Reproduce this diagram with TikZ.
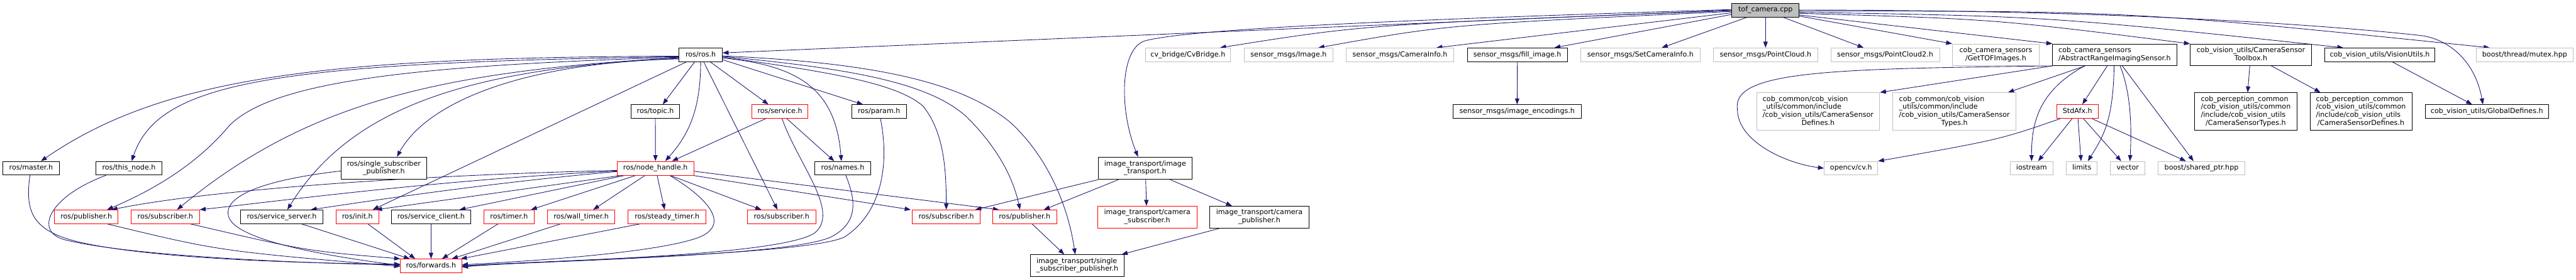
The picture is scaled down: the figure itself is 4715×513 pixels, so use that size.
\documentclass[tikz,border=0pt]{standalone}
\usepackage{fontspec}
\setmainfont{DejaVu Sans}
\usetikzlibrary{arrows.meta}
\definecolor{edgeblue}{HTML}{191970}
\definecolor{graybd}{HTML}{BFBFBF}
\pgfdeclarelayer{bg}
\pgfsetlayers{bg,main}
\newcommand\twol[2]{\begin{tabular}{@{}l@{}}#1\\\multicolumn{1}{@{}c@{}}{#2}\end{tabular}}
\newcommand\fourl[4]{\begin{tabular}{@{}l@{}}#1\\#2\\#3\\\multicolumn{1}{@{}c@{}}{#4}\end{tabular}}
\tikzset{
  nb/.style={draw=black, line width=1pt, fill=white, rectangle, inner sep=0pt, minimum height=25pt, font=\fontsize{12.8}{14.5}\selectfont},
  ng/.style={nb, draw=graybd},
  nr/.style={nb, draw=red},
  sl/.style={text height=9.6pt, text depth=2.9pt},
  dep/.style={draw=edgeblue, line width=1pt, -{Triangle[length=11pt,width=8pt]}},
}
\begin{document}
\begin{tikzpicture}[x=1pt,y=-1pt]
\useasboundingbox (0,0) rectangle (4715,513);
% ---------- nodes ----------
\node[nb, sl, fill=graybd, minimum width=123pt, minimum height=25.6pt] (tof) at (3231.5,18.5) {tof\_camera.cpp};
% row 2
\node[nb, sl, minimum width=79pt] (ros) at (1282.5,100.5) {ros/ros.h};
\node[ng, sl, minimum width=155.4pt] (cvbridge) at (2174.3,100.5) {cv\_bridge/CvBridge.h};
\node[ng, sl, minimum width=163pt] (image) at (2358.5,100.5) {sensor\_msgs/Image.h};
\node[ng, sl, minimum width=197.3pt] (camerainfo) at (2562.4,100.5) {sensor\_msgs/CameraInfo.h};
\node[nb, sl, minimum width=182.6pt] (fillimage) at (2777.3,100.5) {sensor\_msgs/fill\_image.h};
\node[ng, sl, minimum width=219pt] (setcamerainfo) at (3002.5,100.5) {sensor\_msgs/SetCameraInfo.h};
\node[ng, sl, minimum width=191pt] (pointcloud) at (3231.5,100.5) {sensor\_msgs/PointCloud.h};
\node[ng, sl, minimum width=199pt] (pointcloud2) at (3450.5,100.5) {sensor\_msgs/PointCloud2.h};
\node[ng, minimum width=159pt, minimum height=40pt] (gettof) at (3653,100.6) {\twol{cob\_camera\_sensors}{/GetTOFImages.h}};
\node[nb, minimum width=227pt, minimum height=39.6pt] (abstract) at (3870.5,100.5) {\twol{cob\_camera\_sensors}{/AbstractRangeImagingSensor.h}};
\node[nb, minimum width=221.7pt, minimum height=39.6pt] (toolbox) at (4119.85,100.5) {\twol{cob\_vision\_utils/CameraSensor}{Toolbox.h}};
\node[nb, sl, minimum width=202.5pt] (visionutils) at (4355.75,100.5) {cob\_vision\_utils/VisionUtils.h};
\node[ng, sl, minimum width=178pt] (mutex) at (4621,100.5) {boost/thread/mutex.hpp};
% row 3
\node[nb, sl, minimum width=89pt] (topic) at (1199.5,204.5) {ros/topic.h};
\node[nr, sl, minimum width=103pt] (service) at (1427.5,204.5) {ros/service.h};
\node[nb, sl, minimum width=100pt] (param) at (1609,204.5) {ros/param.h};
\node[nb, sl, minimum width=235.7pt] (imgenc) at (2776.85,204.5) {sensor\_msgs/image\_encodings.h};
\node[ng, minimum width=225.5pt, minimum height=69pt] (csdefines) at (3327.75,204.5) {\fourl{cob\_common/cob\_vision}{\_utils/common/include}{/cob\_vision\_utils/CameraSensor}{Defines.h}};
\node[ng, minimum width=225.4pt, minimum height=69pt] (cstypes) at (3577.3,204.5) {\fourl{cob\_common/cob\_vision}{\_utils/common/include}{/cob\_vision\_utils/CameraSensor}{Types.h}};
\node[nr, sl, minimum width=75.9pt, minimum height=25.6pt] (stdafx) at (3802.45,204.5) {StdAfx.h};
\node[nb, minimum width=187pt, minimum height=69pt] (pctypes) at (4110.5,204.5) {\fourl{cob\_perception\_common}{/cob\_vision\_utils/common}{/include/cob\_vision\_utils}{/CameraSensorTypes.h}};
\node[nb, minimum width=186.5pt, minimum height=69pt] (pcdefines) at (4321.25,204.5) {\fourl{cob\_perception\_common}{/cob\_vision\_utils/common}{/include/cob\_vision\_utils}{/CameraSensorDefines.h}};
\node[nb, sl, minimum width=225.6pt] (globaldefines) at (4551.8,204.5) {cob\_vision\_utils/GlobalDefines.h};
% row 4
\node[nb, sl, minimum width=104.3pt] (master) at (56.85,308.5) {ros/master.h};
\node[nb, sl, minimum width=120pt] (thisnode) at (236,308.5) {ros/this\_node.h};
\node[nb, minimum width=156.2pt, minimum height=41pt] (rossingle) at (702.6,308.5) {\twol{ros/single\_subscriber}{\_publisher.h}};
\node[nr, sl, minimum width=140pt, minimum height=25.3pt] (nodehandle) at (1199.7,308.5) {ros/node\_handle.h};
\node[nb, sl, minimum width=103pt] (names) at (1542.5,308.5) {ros/names.h};
\node[nb, minimum width=172pt, minimum height=41pt] (imgtrans) at (2096,308.5) {\twol{image\_transport/image}{\_transport.h}};
\node[ng, sl, minimum width=98pt] (opencv) at (3388,308.5) {opencv/cv.h};
\node[ng, sl, minimum width=79pt] (iostream) at (3718.5,308.5) {iostream};
\node[ng, sl, minimum width=56.8pt] (limits) at (3810.4,308.5) {limits};
\node[ng, sl, minimum width=63pt] (vector) at (3894.5,308.5) {vector};
\node[ng, sl, minimum width=159pt] (sharedptr) at (4029.5,308.5) {boost/shared\_ptr.hpp};
% row 5
\node[nr, sl, minimum width=116pt] (pubL) at (158,397.5) {ros/publisher.h};
\node[nr, sl, minimum width=125pt] (subL) at (302.5,397.5) {ros/subscriber.h};
\node[nb, sl, minimum width=150.5pt] (srvserver) at (515.75,397.5) {ros/service\_server.h};
\node[nr, sl, minimum width=77.6pt] (init) at (654.2,397.5) {ros/init.h};
\node[nb, sl, minimum width=144pt] (srvclient) at (789,397.5) {ros/service\_client.h};
\node[nr, sl, minimum width=92.5pt] (timer) at (931.75,397.5) {ros/timer.h};
\node[nr, sl, minimum width=122.5pt] (walltimer) at (1063.75,397.5) {ros/wall\_timer.h};
\node[nr, sl, minimum width=142.6pt] (steadytimer) at (1221,397.5) {ros/steady\_timer.h};
\node[nr, sl, minimum width=125pt] (subM) at (1430.5,397.5) {ros/subscriber.h};
\node[nr, sl, minimum width=124pt] (sub2) at (1732,397.5) {ros/subscriber.h};
\node[nr, sl, minimum width=117pt] (pub2) at (1875.5,397.5) {ros/publisher.h};
\node[nr, minimum width=181.7pt, minimum height=40pt] (camsub) at (2099.85,398) {\twol{image\_transport/camera}{\_subscriber.h}};
\node[nb, minimum width=182pt, minimum height=40pt] (campub) at (2305,398) {\twol{image\_transport/camera}{\_publisher.h}};
% row 6
\node[nr, sl, minimum width=112pt] (forwards) at (789,487.5) {ros/forwards.h};
\node[nb, minimum width=172pt, minimum height=40pt] (itsingle) at (1972,487) {\twol{image\_transport/single}{\_subscriber\_publisher.h}};
% ---------- edges ----------
\begin{pgfonlayer}{bg}
% tof, left fan
\draw[dep] ([yshift=1pt]tof.west) .. controls (2600,35) and (2180,52) .. (2095,75) .. controls (2050,90) and (2048,200) .. ([xshift=-13pt]imgtrans.north);
\draw[dep] (tof.west) -- ([yshift=3.5pt]ros.east);
\draw[dep] ([yshift=-1pt]tof.west) .. controls (2500,45) .. ([xshift=58.7pt]cvbridge.north);
\draw[dep] ([yshift=-2.5pt]tof.west) .. controls (2650,45) .. ([xshift=54.5pt]image.north);
\draw[dep] ([yshift=-5pt]tof.west) -- ([xshift=66.6pt]camerainfo.north);
\draw[dep] ([yshift=-8pt]tof.west) -- ([xshift=67.7pt]fillimage.north);
\draw[dep] ([xshift=-34pt]tof.south) -- ([xshift=39pt]setcamerainfo.north);
\draw[dep] (tof.south) -- (pointcloud.north);
\draw[dep] ([xshift=32.5pt]tof.south) -- ([xshift=-39.5pt]pointcloud2.north);
% tof, right fan
\draw[dep] ([yshift=-11pt]tof.east) -- (gettof.north west);
\draw[dep] ([yshift=-9pt]tof.east) -- (abstract.north west);
\draw[dep] ([yshift=-6pt]tof.east) .. controls (3650,35) .. (toolbox.north west);
\draw[dep] ([yshift=-4pt]tof.east) .. controls (3750,30) .. ([xshift=-66.75pt]visionutils.north);
\draw[dep] ([yshift=-2pt]tof.east) .. controls (3900,20) .. ([xshift=-64pt]mutex.north);
\draw[dep] (tof.east) .. controls (3800,18) and (4200,40) .. (4430,65) .. controls (4480,71) and (4530,110) .. ([xshift=-7.2pt]globaldefines.north);
% ros/ros.h
\draw[dep] ([yshift=-2.5pt]ros.west) .. controls (600,105) and (300,140) .. ([xshift=18pt]master.north);
\draw[dep] ([yshift=-3.5pt]ros.west) .. controls (500,115) and (290,150) .. ([xshift=5pt]thisnode.north);
\draw[dep] ([yshift=-4.5pt]ros.west) .. controls (750,120) and (500,150) .. (420,230) .. controls (370,290) and (300,340) .. ([xshift=38pt]pubL.north);
\draw[dep] ([yshift=-5.5pt]ros.west) .. controls (800,130) and (560,190) .. ([xshift=21.5pt]subL.north);
\draw[dep] ([yshift=-6.5pt]ros.west) .. controls (850,125) and (640,200) .. ([xshift=10.25pt]srvserver.north);
\draw[dep] ([yshift=-7.5pt]ros.west) .. controls (950,115) and (780,190) .. ([xshift=24pt]rossingle.north);
\draw[dep] ([xshift=-26pt]ros.south) -- ([xshift=28pt]init.north);
\draw[dep] ([xshift=-11pt]ros.south) -- ([xshift=13.5pt]topic.north);
\draw[dep] (ros.south) .. controls (1282,200) and (1262,245) .. ([xshift=18pt]nodehandle.north);
\draw[dep] ([xshift=5.5pt]ros.south) -- ([xshift=-7.5pt]subM.north);
\draw[dep] ([xshift=17.5pt]ros.south) -- ([xshift=-21pt]service.north);
\draw[dep] ([yshift=-6pt]ros.east) .. controls (1470,120) and (1530,170) .. ([xshift=-2.5pt]names.north);
\draw[dep] ([yshift=-9pt]ros.east) -- ([xshift=-29.5pt]param.north);
\draw[dep] ([yshift=-4pt]ros.east) .. controls (1500,130) and (1640,150) .. (1690,195) .. controls (1725,240) and (1732,300) .. (sub2.north);
\draw[dep] ([yshift=-3pt]ros.east) .. controls (1550,125) and (1700,150) .. (1770,215) .. controls (1830,275) and (1855,330) .. ([xshift=-8.5pt]pub2.north);
\draw[dep] ([yshift=-2pt]ros.east) .. controls (1600,115) and (1760,150) .. (1850,225) .. controls (1920,290) and (1955,380) .. ([xshift=-4pt]itsingle.north);
% topic, service
\draw[dep] (topic.south) -- (nodehandle.north);
\draw[dep] ([xshift=-25.8pt]service.south) -- ([xshift=30.3pt]nodehandle.north);
\draw[dep] ([xshift=12.5pt]service.south) -- ([xshift=-15.5pt]names.north);
\draw[dep] ([xshift=4pt]service.south) .. controls (1460,300) and (1540,390) .. (1490,428) .. controls (1420,470) and (1000,478) .. (forwards.east);
\draw[dep] ([xshift=5.5pt]names.south) .. controls (1568,370) and (1570,410) .. (1520,435) .. controls (1440,470) and (1000,478) .. ([yshift=-1pt]forwards.east);
\draw[dep] ([xshift=2.5pt]param.south) .. controls (1628,300) and (1615,390) .. (1545,435) .. controls (1470,468) and (1000,476) .. ([yshift=-2pt]forwards.east);
% node_handle
\draw[dep] ([yshift=-4pt]nodehandle.west) .. controls (800,320) and (400,345) .. ([xshift=46pt]pubL.north);
\draw[dep] ([yshift=-5pt]nodehandle.west) .. controls (800,330) and (500,370) .. (subL.north east);
\draw[dep] ([yshift=-6pt]nodehandle.west) .. controls (900,335) and (700,365) .. ([xshift=53pt]srvserver.north);
\draw[dep] ([xshift=-62pt]nodehandle.south) -- ([xshift=34pt]init.north);
\draw[dep] ([xshift=-56pt]nodehandle.south) -- ([xshift=52pt]srvclient.north);
\draw[dep] ([xshift=-36pt]nodehandle.south) -- ([xshift=40pt]timer.north);
\draw[dep] ([xshift=-19pt]nodehandle.south) -- ([xshift=22pt]walltimer.north);
\draw[dep] ([xshift=3pt]nodehandle.south) -- ([xshift=-4.5pt]steadytimer.north);
\draw[dep] ([xshift=27pt]nodehandle.south) -- ([xshift=-37pt]subM.north);
\draw[dep] ([xshift=-2pt]nodehandle.south east) -- ([xshift=-65pt]sub2.north);
\draw[dep] ([yshift=-5.5pt]nodehandle.east) -- ([xshift=-47pt]pub2.north);
\draw[dep] ([xshift=26pt]nodehandle.south) .. controls (1290,360) and (1340,410) .. (1280,435) .. controls (1200,465) and (950,480) .. ([yshift=2pt]forwards.east);
% into ros/forwards.h from the left
\draw[dep] ([xshift=-2pt]master.south) .. controls (45,390) and (60,425) .. (150,445) .. controls (300,478) and (600,483) .. ([yshift=3pt]forwards.west);
\draw[dep] ([xshift=-42pt]thisnode.south) .. controls (90,360) and (60,425) .. (120,440) .. controls (250,472) and (600,484) .. ([yshift=2pt]forwards.west);
\draw[dep] ([xshift=38pt]pubL.south) .. controls (400,460) .. ([yshift=-1pt]forwards.west);
\draw[dep] ([xshift=45.5pt]subL.south) .. controls (560,460) .. (forwards.north west);
\draw[dep] ([xshift=36pt]srvserver.south) -- ([xshift=-39pt]forwards.north);
\draw[dep] ([yshift=-5pt]rossingle.west) .. controls (480,330) and (410,360) .. (418,395) .. controls (425,440) and (600,470) .. ([yshift=1pt]forwards.west);
\draw[dep] ([xshift=19pt]init.south) -- ([xshift=-29pt]forwards.north);
\draw[dep] (srvclient.south) -- (forwards.north);
\draw[dep] ([xshift=-20pt]timer.south) -- ([xshift=20pt]forwards.north);
\draw[dep] ([xshift=-37.5pt]walltimer.south) -- ([xshift=38pt]forwards.north);
\draw[dep] ([xshift=-49pt]steadytimer.south) -- ([xshift=-2pt]forwards.north east);
% image_transport
\draw[dep] ([xshift=-49pt]imgtrans.south) -- ([xshift=35pt]pub2.north);
\draw[dep] (imgtrans.south west) -- ([xshift=53pt]sub2.north);
\draw[dep] ([xshift=1pt]imgtrans.south) -- ([xshift=-1.35pt]camsub.north);
\draw[dep] ([xshift=46pt]imgtrans.south) -- ([xshift=-50pt]campub.north);
\draw[dep] ([xshift=13.5pt]pub2.south) -- ([xshift=-24pt]itsingle.north);
\draw[dep] ([xshift=-72pt]campub.south) -- ([xshift=81pt]itsingle.north);
\draw[dep] (fillimage.south) -- (imgenc.north);
% AbstractRangeImagingSensor
\draw[dep] (abstract.south west) .. controls (3350,126) and (3170,130) .. (3180,200) .. controls (3180,260) and (3270,300) .. (opencv.west);
\draw[dep] (abstract.south west) -- (csdefines.north east);
\draw[dep] ([xshift=-54pt]abstract.south) -- ([xshift=98pt]cstypes.north);
\draw[dep] ([xshift=-55pt]abstract.south) .. controls (3735,165) and (3718,220) .. (iostream.north);
\draw[dep] ([xshift=-13.5pt]abstract.south) -- ([xshift=9pt]stdafx.north);
\draw[dep] ([xshift=-1pt]abstract.south) .. controls (3868,220) and (3850,250) .. ([xshift=11pt]limits.north);
\draw[dep] ([xshift=10pt]abstract.south) .. controls (3900,170) and (3902,230) .. ([xshift=4pt]vector.north);
\draw[dep] ([xshift=14pt]abstract.south) -- ([xshift=-14.5pt]sharedptr.north);
% StdAfx
\draw[dep] ([xshift=-32pt]stdafx.south) .. controls (3660,256) .. (opencv.north east);
\draw[dep] ([xshift=-10pt]stdafx.south) -- ([xshift=12pt]iostream.north);
\draw[dep] ([xshift=1pt]stdafx.south) -- ([xshift=-1.4pt]limits.north);
\draw[dep] ([xshift=11pt]stdafx.south) -- ([xshift=-12pt]vector.north);
\draw[dep] ([xshift=27pt]stdafx.south) -- ([xshift=-28.5pt]sharedptr.north);
% toolbox, vision utils
\draw[dep] ([xshift=-2pt]toolbox.south) -- ([xshift=3.5pt]pctypes.north);
\draw[dep] ([xshift=37.5pt]toolbox.south) -- ([xshift=-74pt]pcdefines.north);
\draw[dep] ([xshift=23pt]visionutils.south) -- ([xshift=-27pt]globaldefines.north);
\end{pgfonlayer}
\end{tikzpicture}
\end{document}
